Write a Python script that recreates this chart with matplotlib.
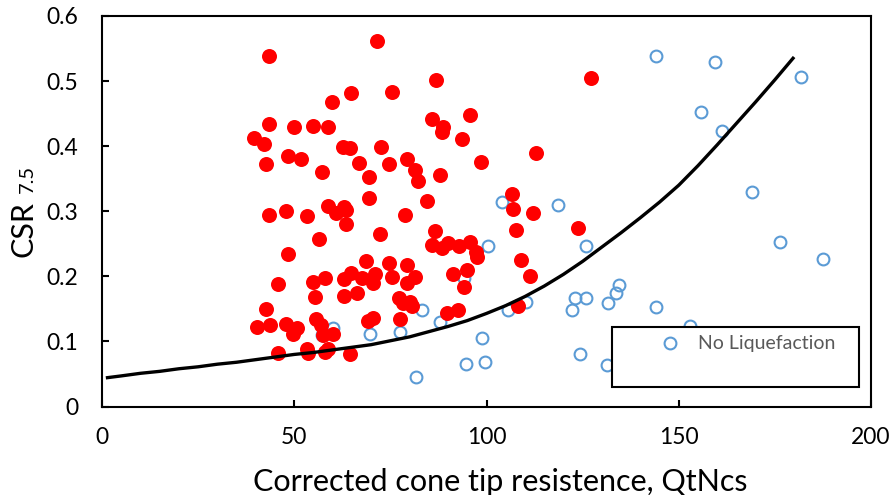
import matplotlib
matplotlib.use("Agg")
import matplotlib.pyplot as plt
from matplotlib.patches import Rectangle

# Liquefaction cases (red filled)
liq_x = [43.4, 71.5, 86.9, 127.1, 75.3, 64.8, 59.8, 95.7, 85.8, 43.5, 50.0, 54.9, 58.7, 88.8, 88.3,
         39.6, 93.7, 42.1, 62.8, 64.6, 72.5, 113.0, 48.5, 51.8, 79.4, 42.6, 66.9, 74.6, 98.5, 81.4,
         57.1, 69.5, 88.0, 82.1, 106.6, 69.4, 84.4, 58.7, 63.0, 106.9, 47.9, 63.4, 60.8, 43.4, 78.8,
         112.0, 53.3, 63.5, 123.8, 107.8, 86.6, 72.2, 56.5, 95.7, 90.1, 85.8, 92.9, 88.3, 97.2, 48.3,
         97.4, 109.1, 68.7, 74.7, 79.4, 94.8, 64.7, 71.0, 91.2, 111.3, 58.1, 75.5, 81.4, 63.0, 67.6,
         54.9, 70.6, 79.3, 45.8, 94.2, 66.3, 63.0, 55.5, 77.3, 80.1, 78.2, 80.6, 108.2, 42.7, 92.7,
         89.6, 55.6, 70.6, 77.5, 69.1, 47.9, 43.8, 57.0, 40.3, 50.7, 49.8, 60.1, 57.6, 53.3, 58.8,
         58.1, 45.9, 53.5, 64.4]
liq_y = [0.538, 0.561, 0.501, 0.505, 0.483, 0.482, 0.468, 0.448, 0.441, 0.434, 0.429, 0.431, 0.430, 0.429, 0.421,
         0.413, 0.411, 0.404, 0.398, 0.397, 0.398, 0.390, 0.385, 0.381, 0.381, 0.373, 0.374, 0.373, 0.375, 0.364,
         0.361, 0.353, 0.355, 0.347, 0.326, 0.320, 0.316, 0.308, 0.307, 0.303, 0.300, 0.302, 0.297, 0.295, 0.295,
         0.298, 0.293, 0.281, 0.275, 0.271, 0.270, 0.265, 0.258, 0.252, 0.251, 0.248, 0.246, 0.243, 0.238, 0.234,
         0.230, 0.225, 0.224, 0.220, 0.217, 0.210, 0.205, 0.203, 0.203, 0.201, 0.198, 0.199, 0.199, 0.196, 0.197,
         0.192, 0.189, 0.189, 0.188, 0.183, 0.175, 0.170, 0.168, 0.166, 0.160, 0.159, 0.154, 0.154, 0.150, 0.148,
         0.143, 0.135, 0.136, 0.134, 0.132, 0.127, 0.125, 0.125, 0.122, 0.121, 0.112, 0.111, 0.110, 0.089, 0.089,
         0.083, 0.082, 0.082, 0.081]

# No liquefaction cases (blue open)
noliq_x = [144.1, 159.4, 181.9, 155.9, 161.2, 169.0, 176.3, 187.4, 104.0, 118.7, 100.4, 125.8, 94.1, 134.4,
           133.6, 131.6, 123.0, 126.0, 122.3, 110.4, 105.6, 144.1, 152.8, 83.2, 87.9, 77.5, 69.6, 60.1,
           57.2, 98.7, 124.2, 131.4, 94.7, 99.7, 81.6]
noliq_y = [0.539, 0.530, 0.506, 0.452, 0.423, 0.330, 0.253, 0.226, 0.314, 0.309, 0.246, 0.247, 0.197, 0.187,
           0.174, 0.159, 0.166, 0.166, 0.148, 0.161, 0.148, 0.153, 0.124, 0.149, 0.130, 0.115, 0.111, 0.120,
           0.110, 0.106, 0.080, 0.063, 0.066, 0.068, 0.045]

# Boundary curve
curve_x = [1, 5, 10, 15, 20, 25, 30, 35, 40, 45, 50, 55, 60, 65, 70, 75, 80, 85, 90, 95, 100,
           105, 110, 115, 120, 125, 130, 135, 140, 145, 150, 155, 160, 165, 170, 175, 180]
curve_y = [0.044, 0.047, 0.051, 0.054, 0.058, 0.061, 0.065, 0.068, 0.072, 0.076, 0.080, 0.083, 0.087,
           0.091, 0.095, 0.101, 0.107, 0.115, 0.123, 0.132, 0.143, 0.155, 0.169, 0.185, 0.203, 0.223,
           0.245, 0.267, 0.290, 0.314, 0.340, 0.370, 0.402, 0.435, 0.468, 0.502, 0.537]

x_ticks = [0, 50, 100, 150, 200]
y_ticks = [0, 0.1, 0.2, 0.3, 0.4, 0.5, 0.6]
y_tick_labels = ["0", "0.1", "0.2", "0.3", "0.4", "0.5", "0.6"]

plt.rcParams['font.family'] = ['Lato', 'DejaVu Sans']

W, H = 891, 495
fig = plt.figure(figsize=(W / 100, H / 100), dpi=100)
ax = fig.add_axes([102 / W, 1 - 406.5 / H, (871 - 102) / W, (406.5 - 16) / H])

ax.plot(noliq_x, noliq_y, 'o', markerfacecolor='none', markeredgecolor='#5B9BD5',
        markersize=8.5, markeredgewidth=1.5, zorder=2, label='No Liquefaction')
ax.plot(liq_x, liq_y, 'o', color='#FF0000', markersize=10.8, markeredgewidth=0, zorder=3)
ax.plot(curve_x, curve_y, '-', color='black', linewidth=2.4, zorder=4, solid_capstyle='butt',
        solid_joinstyle='round')

ax.set_xlim(0, 200)
ax.set_ylim(0, 0.6)
ax.set_xticks(x_ticks)
ax.set_xticklabels([str(v) for v in x_ticks])
ax.set_yticks(y_ticks)
ax.set_yticklabels(y_tick_labels)
ax.tick_params(direction='in', length=5, width=1.5, labelsize=16.5, pad=17, colors='black')
ax.tick_params(axis='x', pad=15)
for s in ax.spines.values():
    s.set_linewidth(1.5)
    s.set_color('black')

# legend box
x0 = (612 - 102) / 769
x1 = (859 - 102) / 769
y0 = (406.5 - 387) / 390.5
y1 = (406.5 - 327) / 390.5
ax.add_patch(Rectangle((x0, y0), x1 - x0, y1 - y0, transform=ax.transAxes, fill=True,
                       facecolor='white', edgecolor='black', linewidth=1.5, zorder=5))
leg = ax.legend(loc='center left', bbox_to_anchor=((658 - 102) / 769, (406.5 - 344) / 390.5),
                frameon=False, fontsize=14, handletextpad=0.85, borderaxespad=0, borderpad=0,
                handlelength=1.2)
leg.set_zorder(6)
for t in leg.get_texts():
    t.set_color('#595959')

# axis titles
fig.text(500 / W, 1 - 491 / H, 'Corrected cone tip resistence, QtNcs', ha='center', va='baseline',
         fontsize=22, color='black')
fig.text(33 / W, 1 - 257 / H, 'CSR', rotation=90, rotation_mode='anchor', ha='left', va='baseline',
         fontsize=22, color='black')
fig.text(33 / W, 1 - 193 / H, '7.5', rotation=90, rotation_mode='anchor', ha='left', va='baseline',
         fontsize=14.5, color='black')

fig.savefig('out.png', dpi=100)
